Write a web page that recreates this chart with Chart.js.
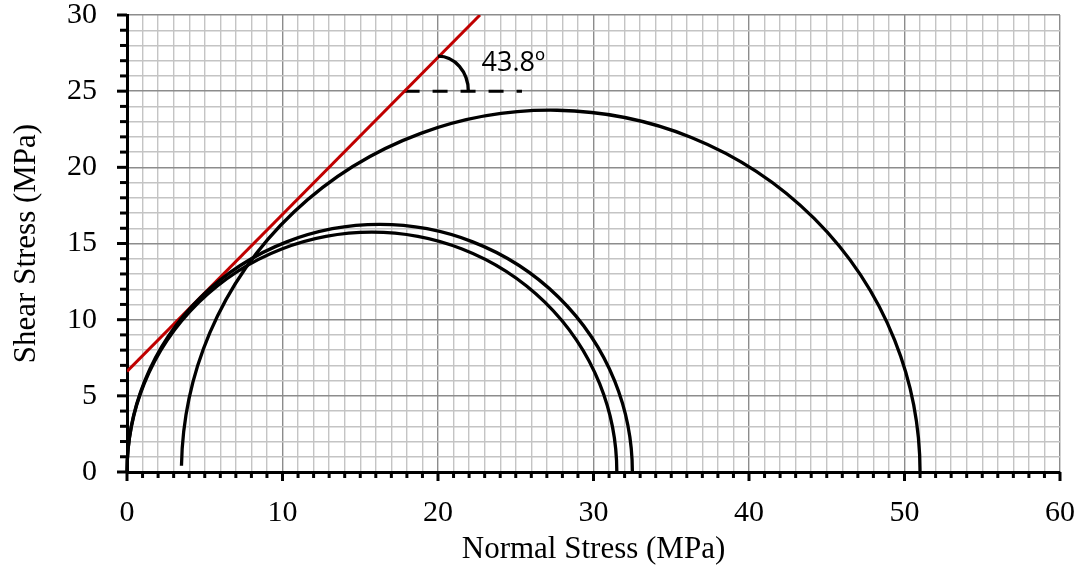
<!DOCTYPE html>
<html>
<head>
<meta charset="utf-8">
<script src="https://cdn.jsdelivr.net/npm/chart.js@4.4.0/dist/chart.umd.min.js"></script>
<style>
  html, body { margin: 0; padding: 0; background: #fff; }
  #wrap { width: 1084px; height: 571px; }
</style>
</head>
<body>
<div id="wrap"><canvas id="mohr"></canvas></div>
<script>
// Mohr circles: minor / major principal stress (MPa)
const sigma3 = [0, 0, 3.5];
const sigma1 = [31.5, 32.5, 51];
// where each curve stops on its left side (deg above axis)
const leftGap = [0, 0, 1];

// failure envelope (red line)
const envelopeX = [0, 22.7];
const envelopeY = [6.6, 30];

// horizontal reference for the angle
const refX = [17.85, 25.4];
const refY = [25, 25];

// angle arc and label
const arcCentre = [20.0, 25];
const arcRadius = [1.95, 2.3];
const angleLabel = '43.8º';
const labelPos = [22.8, 26.3];

const xTicks = [0, 10, 20, 30, 40, 50, 60];
const yTicks = [0, 5, 10, 15, 20, 25, 30];

const serif = "'Liberation Serif', 'Times New Roman', serif";

const mohrPlugin = {
    id: 'mohr',
    afterDatasetsDraw(chart) {
        const ctx = chart.ctx;
        const xs = chart.scales.x;
        const ys = chart.scales.y;
        const pxX = xs.getPixelForValue(1) - xs.getPixelForValue(0);
        const pxY = ys.getPixelForValue(0) - ys.getPixelForValue(1);
        ctx.save();
        ctx.strokeStyle = '#000';
        ctx.lineWidth = 3.3;
        for (let i = 0; i < sigma3.length; i++) {
            let c = (sigma1[i] + sigma3[i]) / 2;
            let r = (sigma1[i] - sigma3[i]) / 2;
            ctx.beginPath();
            ctx.ellipse(xs.getPixelForValue(c), ys.getPixelForValue(0), r * pxX, r * pxY, 0,
                Math.PI + leftGap[i] * Math.PI / 180, 2 * Math.PI);
            ctx.stroke();
        }
        // angle arc
        ctx.beginPath();
        ctx.ellipse(xs.getPixelForValue(arcCentre[0]), ys.getPixelForValue(arcCentre[1]),
            arcRadius[0] * pxX, arcRadius[1] * pxY, 0, 1.5 * Math.PI, 2 * Math.PI);
        ctx.stroke();
        // label
        ctx.fillStyle = '#000';
        ctx.font = "27px 'Open Sans', 'Noto Sans', sans-serif";
        ctx.textBaseline = 'alphabetic';
        ctx.fillText(angleLabel, xs.getPixelForValue(labelPos[0]), ys.getPixelForValue(labelPos[1]));
        ctx.restore();
    },
    afterDraw(chart) {
        // tick marks: long at labelled values, short otherwise
        const ctx = chart.ctx;
        const xs = chart.scales.x;
        const ys = chart.scales.y;
        const area = chart.chartArea;
        ctx.save();
        ctx.strokeStyle = '#000';
        ctx.lineWidth = 3;
        xs.ticks.forEach(t => {
            const px = xs.getPixelForValue(t.value);
            const len = xTicks.includes(t.value) ? 9 : 6;
            ctx.beginPath();
            ctx.moveTo(px, area.bottom);
            ctx.lineTo(px, area.bottom + len);
            ctx.stroke();
        });
        ys.ticks.forEach(t => {
            const py = ys.getPixelForValue(t.value);
            const len = yTicks.includes(t.value) ? 10 : 7;
            ctx.beginPath();
            ctx.moveTo(area.left, py);
            ctx.lineTo(area.left - len, py);
            ctx.stroke();
        });
        ctx.restore();
    }
};

new Chart(document.getElementById('mohr'), {
    type: 'scatter',
    data: {
        datasets: [{
            label: 'Envelope',
            data: envelopeX.map((x, i) => ({x: x, y: envelopeY[i]})),
            showLine: true,
            borderColor: '#c00000',
            borderWidth: 3,
            pointRadius: 0
        }, {
            label: 'Reference',
            data: refX.map((x, i) => ({x: x, y: refY[i]})),
            showLine: true,
            borderColor: '#000',
            borderWidth: 3,
            borderDash: [15, 13],
            pointRadius: 0
        }]
    },
    options: {
        responsive: true,
        maintainAspectRatio: false,
        animation: false,
        layout: { padding: { top: 15, right: 24, left: 0, bottom: 0 } },
        plugins: { legend: { display: false }, tooltip: { enabled: false } },
        scales: {
            x: {
                min: 0, max: 60,
                afterFit: s => { s.height = 99; s.paddingLeft = 0; s.paddingRight = 0; },
                ticks: {
                    stepSize: 1,
                    autoSkip: false,
                    maxRotation: 0,
                    padding: 13,
                    color: '#000',
                    font: { family: serif, size: 30 },
                    callback: v => xTicks.includes(v) ? v : ''
                },
                grid: {
                    color: c => (c.tick && c.tick.value % 10 === 0) ? '#8c8c8c' : '#c4c4c4',
                    lineWidth: 1.4,
                    tickLength: 10,
                    tickColor: 'rgba(0,0,0,0)'
                },
                border: { color: '#000', width: 3 },
                title: {
                    display: true,
                    text: 'Normal Stress (MPa)',
                    color: '#000',
                    font: { family: serif, size: 31 },
                    padding: { bottom: 3 }
                }
            },
            y: {
                min: 0, max: 30,
                afterFit: s => { s.width = 127; s.paddingTop = 0; s.paddingBottom = 0; },
                ticks: {
                    stepSize: 1,
                    autoSkip: false,
                    padding: 20,
                    color: '#000',
                    font: { family: serif, size: 30 },
                    callback: v => yTicks.includes(v) ? v : ''
                },
                grid: {
                    color: c => (c.tick && c.tick.value % 5 === 0) ? '#8c8c8c' : '#c4c4c4',
                    lineWidth: 1.4,
                    tickLength: 10,
                    tickColor: 'rgba(0,0,0,0)'
                },
                border: { color: '#000', width: 3 },
                title: {
                    display: true,
                    text: 'Shear Stress (MPa)',
                    color: '#000',
                    font: { family: serif, size: 31 },
                    padding: { top: 8 }
                }
            }
        }
    },
    plugins: [mohrPlugin]
});
</script>
</body>
</html>
